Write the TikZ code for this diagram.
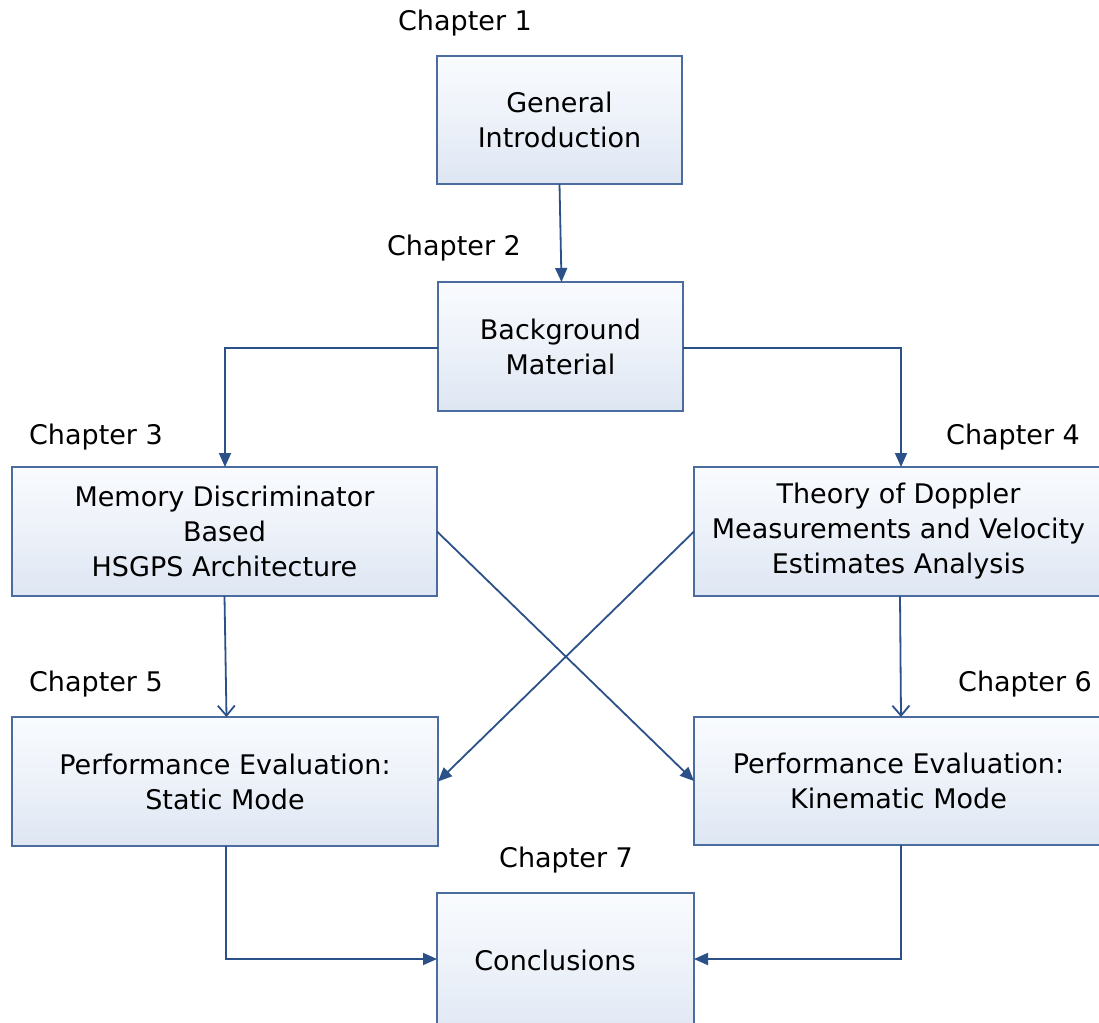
\documentclass[tikz,border=0pt]{standalone}
\usepackage{fontspec}
\setmainfont{DejaVu Sans}
\usetikzlibrary{arrows.meta}
\definecolor{boxline}{HTML}{4A6C9E}
\definecolor{boxtop}{HTML}{F9FBFE}
\definecolor{boxbot}{HTML}{DEE6F3}
\definecolor{wire}{HTML}{2B5188}
\tikzset{
  chapbox/.style={draw=boxline, line width=1.3pt, top color=boxtop, bottom color=boxbot,
    middle color=boxbot!45!boxtop, shading angle=0,
    inner sep=0pt, outer sep=0pt, align=center, font=\fontsize{27}{35}\selectfont},
  chaplabel/.style={font=\fontsize{27}{30}\selectfont, inner sep=0pt},
  wirefill/.style={draw=wire, line width=1.8pt, -{Triangle[length=14pt,width=12pt]}},
  wireopen/.style={draw=wire, line width=1.8pt, -{Straight Barb[length=10pt,width=17pt,line width=1.8pt]}},
}
\begin{document}
\begin{tikzpicture}[x=1pt,y=-1pt]
\useasboundingbox (0,0) rectangle (1099,1022);
\fill[white] (0,0) rectangle (1099,1022);
\begin{scope}
\clip (0,0) rectangle (1099,1022);
% chapter boxes
\node[chapbox, minimum width=245pt, minimum height=128pt] (b1) at (559.5,120) {General\\Introduction};
\node[chapbox, minimum width=245pt, minimum height=129pt] (b2) at (560.5,346.5) {Background\\Material};
\node[chapbox, minimum width=425pt, minimum height=129pt] (b3) at (224.5,531.5) {Memory Discriminator\\Based\\HSGPS Architecture};
\node[chapbox, minimum width=409pt, minimum height=129pt] (b4) at (898.5,531.5) {Theory of Doppler\\Measurements and Velocity\\Estimates Analysis};
\node[chapbox, minimum width=426pt, minimum height=129pt] (b5) at (225,781.5) {Performance Evaluation:\\Static Mode};
\node[chapbox, minimum width=409pt, minimum height=128pt] (b6) at (898.5,781) {Performance Evaluation:\\Kinematic Mode};
\node[chapbox, minimum width=257pt, minimum height=150pt] (b7) at (565.5,968) {};
\node[font=\fontsize{27}{30}\selectfont, inner sep=0pt] (t7) at (555,960) {Conclusions};
\end{scope}
% chapter labels
\node[chaplabel] (c1) at (465,23) {Chapter 1};
\node[chaplabel] (c2) at (454,248) {Chapter 2};
\node[chaplabel] (c3) at (96,437) {Chapter 3};
\node[chaplabel] (c4) at (1013,437) {Chapter 4};
\node[chaplabel] (c5) at (96,684) {Chapter 5};
\node[chaplabel] (c6) at (1025,684) {Chapter 6};
\node[chaplabel] (c7) at (566,860) {Chapter 7};
% connectors
\coordinate (k1) at (225,348);
\coordinate (k2) at (901,348);
\coordinate (k3) at (226,959);
\coordinate (k4) at (901,959);
\draw[wirefill] (b1.south) -- ([xshift=1pt]b2.north);
\draw[wirefill] (b2.west |- k1) -- (k1) -- (k1 |- b3.north);
\draw[wirefill] (b2.east |- k2) -- (k2) -- (k2 |- b4.north);
\draw[wireopen] (b3.south) -- ([xshift=1.5pt]b5.north);
\draw[wireopen] ([xshift=1.5pt]b4.south) -- ([xshift=2.5pt]b6.north);
\draw[wirefill] (b3.east) -- (b6.west);
\draw[wirefill] (b4.west) -- (b5.east);
\draw[wirefill] (k3 |- b5.south) -- (k3) -- (k3 -| b7.west);
\draw[wirefill] (k4 |- b6.south) -- (k4) -- (k4 -| b7.east);
\end{tikzpicture}
\end{document}
